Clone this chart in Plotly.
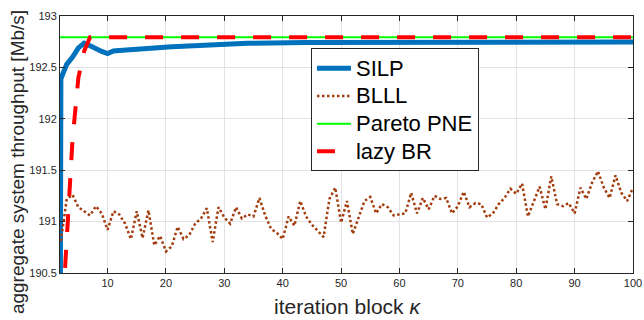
import plotly.graph_objects as go

# iteration blocks
iterations = list(range(1, 101))

# SILP (first block is far below the visible range)
silp = [170.0, 192.39, 192.53, 192.60, 192.69, 192.735, 192.71, 192.68, 192.655, 192.635,
        192.66, 192.665, 192.67, 192.672, 192.675, 192.678, 192.682, 192.686, 192.69, 192.695,
        192.70, 192.703, 192.706, 192.708, 192.712, 192.716, 192.722, 192.728, 192.733, 192.735,
        192.735, 192.734, 192.733, 192.734, 192.736, 192.737, 192.737, 192.738, 192.738, 192.739,
        192.740, 192.741, 192.741, 192.742, 192.743, 192.743, 192.744, 192.744, 192.745, 192.745,
        192.745, 192.745, 192.746, 192.746, 192.746, 192.746, 192.746, 192.746, 192.746, 192.746,
        192.746, 192.746, 192.747, 192.747, 192.747, 192.747, 192.747, 192.747, 192.747, 192.747,
        192.747, 192.747, 192.747, 192.747, 192.747, 192.747, 192.747, 192.747, 192.747, 192.747,
        192.747, 192.747, 192.747, 192.747, 192.747, 192.747, 192.747, 192.747, 192.747, 192.747,
        192.747, 192.747, 192.747, 192.747, 192.747, 192.747, 192.747, 192.747, 192.747, 192.747]

# BLLL
blll = [None, 190.81, 191.22, 191.26, 191.14, 191.10, 191.06, 191.15, 191.08, 190.92,
        191.10, 191.07, 190.98, 190.83, 191.10, 190.84, 191.11, 190.77, 190.86, 190.71,
        190.76, 190.95, 190.83, 190.87, 190.98, 191.03, 191.13, 190.80, 191.14, 191.04,
        190.98, 191.14, 191.03, 191.07, 191.05, 191.23, 191.06, 190.93, 190.89, 190.83,
        191.05, 190.96, 191.20, 191.05, 190.97, 190.91, 190.85, 191.22, 191.33, 190.99,
        191.20, 190.88, 191.04, 191.20, 191.24, 191.08, 191.17, 191.14, 191.06, 191.07,
        191.08, 191.28, 191.08, 191.23, 191.12, 191.25, 191.22, 191.23, 191.08, 191.15,
        191.29, 191.14, 191.18, 191.17, 191.04, 191.08, 191.17, 191.23, 191.32, 191.27,
        191.37, 191.05, 191.19, 191.34, 191.12, 191.44, 191.17, 191.15, 191.18, 191.08,
        191.33, 191.22, 191.38, 191.49, 191.33, 191.23, 191.45, 191.28, 191.20, 191.33]

# Pareto PNE (constant level)
pareto_pne = [192.793] * len(iterations)

# lazy BR
lazy_br = [None, 189.85, 190.80, 191.80, 192.40, 192.66, 192.793, 192.793, 192.793, 192.793,
           192.793, 192.793, 192.793, 192.793, 192.793, 192.793, 192.793, 192.793, 192.793, 192.793,
           192.793, 192.793, 192.793, 192.793, 192.793, 192.793, 192.793, 192.793, 192.793, 192.793,
           192.793, 192.793, 192.793, 192.793, 192.793, 192.793, 192.793, 192.793, 192.793, 192.793,
           192.793, 192.793, 192.793, 192.793, 192.793, 192.793, 192.793, 192.793, 192.793, 192.793,
           192.793, 192.793, 192.793, 192.793, 192.793, 192.793, 192.793, 192.793, 192.793, 192.793,
           192.793, 192.793, 192.793, 192.793, 192.793, 192.793, 192.793, 192.793, 192.793, 192.793,
           192.793, 192.793, 192.793, 192.793, 192.793, 192.793, 192.793, 192.793, 192.793, 192.793,
           192.793, 192.793, 192.793, 192.793, 192.793, 192.793, 192.793, 192.793, 192.793, 192.793,
           192.793, 192.793, 192.793, 192.793, 192.793, 192.793, 192.793, 192.793, 192.793, 192.793]

series_names = ["SILP", "BLLL", "Pareto PNE", "lazy BR"]
x_ticks = [10, 20, 30, 40, 50, 60, 70, 80, 90, 100]
y_ticks = [190.5, 191, 191.5, 192, 192.5, 193]
y_tick_labels = ["190.5", "191", "191.5", "192", "192.5", "193"]
x_title = "iteration block <i>κ</i>"
y_title = "aggregate system throughput [Mb/s]"

FONT = "Liberation Sans, Arial, Helvetica, sans-serif"
INK = "#262626"


def legend_label(name):
    return f"<span style='font-size:22px'>{name}</span>"


fig = go.Figure()
fig.add_trace(go.Scatter(x=iterations, y=silp, mode="lines", name=legend_label(series_names[0]),
                         line=dict(color="#0072BD", width=5)))
fig.add_trace(go.Scatter(x=iterations, y=blll, mode="lines", name=legend_label(series_names[1]),
                         line=dict(color="#A33C0C", width=2.5, dash="2.5px,2.5px")))
fig.add_trace(go.Scatter(x=iterations, y=pareto_pne, mode="lines", name=legend_label(series_names[2]),
                         line=dict(color="#00FF00", width=2)))
fig.add_trace(go.Scatter(x=iterations, y=lazy_br, mode="lines", name=legend_label(series_names[3]),
                         line=dict(color="#FF0000", width=4, dash="18px,18px")))

axis_common = dict(showline=True, linecolor=INK, linewidth=1, mirror="ticks",
                   ticks="inside", ticklen=5, tickcolor=INK, tickwidth=1,
                   showgrid=True, gridcolor="#E3E3E3", gridwidth=1, zeroline=False,
                   automargin=False,
                   tickfont=dict(family=FONT, size=11, color=INK))

fig.update_xaxes(range=[1.85, 100], tickvals=x_ticks, **axis_common)
fig.update_yaxes(range=[190.5, 193], tickvals=y_ticks, ticktext=y_tick_labels, **axis_common)

fig.add_annotation(text=y_title, textangle=-90,
                   xref="paper", yref="paper", x=-0.074, y=0.43,
                   xanchor="center", yanchor="middle", showarrow=False,
                   font=dict(family=FONT, size=19, color=INK))
fig.add_annotation(text=x_title,
                   xref="paper", yref="paper", x=0.501, y=-0.132,
                   xanchor="center", yanchor="middle", showarrow=False,
                   font=dict(family=FONT, size=21, color=INK))

fig.update_layout(
    width=644, height=320,
    margin=dict(l=60, r=11, t=16, b=47),
    paper_bgcolor="white", plot_bgcolor="white",
    font=dict(family=FONT, color=INK),
    showlegend=True,
    legend=dict(x=0.438, y=0.874, xanchor="left", yanchor="top",
                bgcolor="white", bordercolor=INK, borderwidth=1,
                font=dict(family=FONT, size=19, color="black"),
                tracegroupgap=0, itemwidth=34),
)

fig.write_html("out.html", config={"displayModeBar": False},
               post_script="document.body.style.margin='0';document.body.style.overflow='hidden';")
